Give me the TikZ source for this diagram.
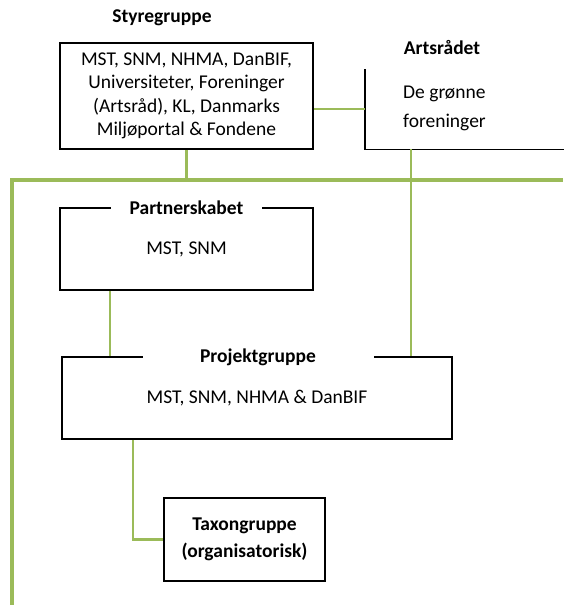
\documentclass[tikz,border=0pt]{standalone}
\usepackage{fontspec}
\setmainfont{Carlito}
\definecolor{grn}{RGB}{155,187,89}
\begin{document}
\begin{tikzpicture}[x=1pt,y=-1pt,
  box/.style={draw=black, line width=1.8pt, rectangle, inner sep=0pt, align=center,
    font=\fontsize{19.5}{23.5}\selectfont},
  head/.style={font=\bfseries\fontsize{19.5}{23.5}\selectfont, inner sep=0pt},
  gaphead/.style={head, fill=white, minimum height=12},
  link/.style={draw=grn, line width=2.3pt},
  bus/.style={draw=grn, line width=3.6pt},
]
\useasboundingbox (0,0) rectangle (563,605);

% Styregruppe
\node[head] (styrehead) at (162,18) {Styregruppe};
\node[box, minimum width=253, minimum height=106] (styre) at (186.5,96)
  {MST, SNM, NHMA, DanBIF,\\Universiteter, Foreninger\\(Artsråd), KL, Danmarks\\Miljøportal \& Fondene};

% Artsraadet
\node[head] (artshead) at (442,48) {Artsrådet};
\node[inner sep=0pt, minimum width=220, minimum height=80, anchor=north west] (arts) at (365,69) {};
\draw[line width=1.8pt] (arts.north west) -- (arts.south west) -- (arts.south east);
\node[inner sep=0pt, anchor=west, align=left, font=\fontsize{19.5}{29}\selectfont] (artstxt) at (403,108)
  {De grønne\\foreninger};

% Partnerskabet
\node[box, minimum width=253, minimum height=82] (partner) at (186.5,249) {MST, SNM};
\node[gaphead, minimum width=151] (partnerhead) at (186.5,208) {Partnerskabet};

% Projektgruppe
\node[box, minimum width=390, minimum height=82] (proj) at (257,398) {MST, SNM, NHMA \& DanBIF};
\node[gaphead, minimum width=231] (projhead) at (258,357) {Projektgruppe};

% Taxongruppe
\node[box, minimum width=161, minimum height=83, font=\bfseries\fontsize{19.5}{27}\selectfont]
  (taxon) at (244.5,539.5) {Taxongruppe\\(organisatorisk)};

% green bus
\coordinate (busL) at (12,180);
\coordinate (busR) at (563,180);
\coordinate (busB) at (12,605);
\draw[bus] (busB) -- (busL) -- (busR);

% connectors
\draw[link] (styre.south) -- (styre.south |- busL);
\draw[link] (styre.east |- arts.west) -- (arts.west);
\draw[link] (arts.south west) ++(46,0) coordinate (a1) -- (a1 |- proj.north);
\draw[link] (partner.south west) ++(51,0) coordinate (p1) -- (p1 |- proj.north);
\draw[link] (proj.south west) ++(72,0) coordinate (p2) -- (p2 |- taxon.west) -- (taxon.west);
\end{tikzpicture}
\end{document}
